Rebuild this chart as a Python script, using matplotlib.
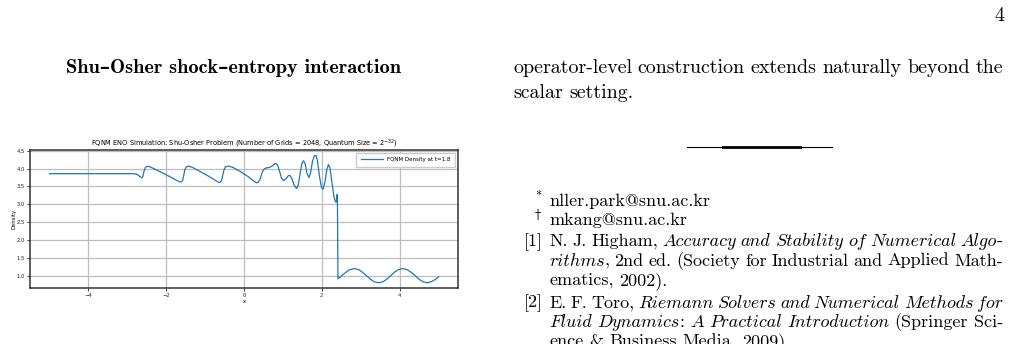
import matplotlib
matplotlib.use("Agg")
import matplotlib.pyplot as plt
from matplotlib.lines import Line2D

W, H = 1010, 344

# density curve
x_vals = [-5.0, -2.85, -2.75, -2.68, -2.63, -2.60, -2.57, -2.54, -2.50, -2.44,
          -2.30, -2.10, -1.90, -1.75, -1.66, -1.62, -1.58, -1.55, -1.52, -1.48,
          -1.42, -1.30, -1.10, -0.90, -0.75, -0.66, -0.62, -0.58, -0.55, -0.51,
          -0.47, -0.40, -0.28, -0.10, 0.10, 0.25, 0.32, 0.37, 0.42, 0.47,
          0.52, 0.58, 0.66, 0.72, 0.79, 0.83, 0.87, 0.92, 0.97, 1.02,
          1.08, 1.14, 1.18, 1.23, 1.29, 1.35, 1.39, 1.44, 1.49, 1.53,
          1.57, 1.62, 1.67, 1.71, 1.76, 1.81, 1.85, 1.89, 1.94, 1.99,
          2.03, 2.08, 2.13, 2.17, 2.21, 2.26, 2.31, 2.35, 2.37, 2.38,
          2.39, 2.40, 2.415, 2.50, 2.60, 2.70, 2.83, 2.95, 3.05, 3.15,
          3.25, 3.35, 3.46, 3.57, 3.67, 3.77, 3.87, 3.97, 4.08, 4.19,
          4.29, 4.40, 4.50, 4.60, 4.71, 4.81, 4.91, 5.00]
rho_vals = [3.857, 3.857, 3.84, 3.78, 3.74, 3.78, 3.92, 4.02, 4.06, 4.06,
            3.99, 3.88, 3.77, 3.68, 3.63, 3.62, 3.66, 3.80, 3.97, 4.05,
            4.07, 4.02, 3.90, 3.78, 3.68, 3.62, 3.61, 3.66, 3.80, 3.98,
            4.05, 4.07, 4.03, 3.92, 3.78, 3.65, 3.60, 3.62, 3.72, 3.90,
            3.99, 4.02, 4.03, 4.07, 4.13, 4.14, 4.08, 3.90, 3.72, 3.66,
            3.72, 3.80, 3.81, 3.72, 3.53, 3.44, 3.52, 3.85, 4.15, 4.22,
            4.14, 3.86, 3.75, 3.88, 4.20, 4.36, 4.37, 4.20, 3.78, 3.48,
            3.42, 3.62, 3.98, 4.11, 4.02, 3.62, 3.22, 3.07, 3.06, 3.14,
            3.27, 3.27, 0.91, 0.99, 1.08, 1.16, 1.20, 1.17, 1.09, 1.00,
            0.90, 0.83, 0.80, 0.83, 0.90, 1.00, 1.10, 1.17, 1.20, 1.17,
            1.10, 1.00, 0.90, 0.83, 0.80, 0.83, 0.89, 0.97]

x_ticks = [-4, -2, 0, 2, 4]
y_ticks = [1.0, 1.5, 2.0, 2.5, 3.0, 3.5, 4.0, 4.5]

plot_title = r"FQNM ENO Simulation: Shu-Osher Problem (Number of Grids = 2048, Quantum Size = $2^{-32}$)"
legend_label = "FQNM Density at t=1.8"

page_number = "4"
heading = "Shu–Osher shock–entropy interaction"
body_lines = ["operator-level construction extends naturally beyond the",
              "scalar setting."]
footnotes = [("*", "nller.park@snu.ac.kr"), ("†", "mkang@snu.ac.kr")]
# text between slashes is italic
references = [
    ("[1]", ["N. J. Higham, /Accuracy and Stability of Numerical Algo/-",
             "/rithms/, 2nd ed. (Society for Industrial and Applied Math-",
             "ematics, 2002)."]),
    ("[2]", ["E. F. Toro, /Riemann Solvers and Numerical Methods for/",
             "/Fluid Dynamics/: /A Practical Introduction/ (Springer Sci-",
             "ence & Business Media, 2009)."]),
]

ROMAN = ["cmr10", "DejaVu Serif"]
ITAL = ["cmmi10", "DejaVu Serif"]
BOLD = ["cmb10", "DejaVu Serif"]

fig = plt.figure(figsize=(W / 100, H / 100), dpi=100)
renderer = fig.canvas.get_renderer()

# ---- embedded plot ----
ax = fig.add_axes([30 / W, 1 - 288 / H, 428 / W, 138 / H])
ax.plot(x_vals, rho_vals, color="#1f77b4", lw=0.9, label=legend_label)
ax.set_xlim(-5.5, 5.5)
ax.set_ylim(0.655, 4.52)
ax.set_xticks(x_ticks)
ax.set_yticks(y_ticks)
ax.grid(True, color="#bdbdbd", lw=0.9)
ax.tick_params(labelsize=3.8, length=2, width=0.6, pad=1.5, colors="#222222")
ax.set_xlabel("x", fontsize=3.8, labelpad=0.5)
ax.set_ylabel("Density", fontsize=3.8, labelpad=0)
ax.set_title(plot_title, fontsize=4.8, pad=2.5)
for s in ax.spines.values():
    s.set_linewidth(1.1)
    s.set_color("#333333")
ax.legend(loc="upper right", fontsize=4.0, handlelength=4.0, borderpad=0.8,
          framealpha=1, fancybox=False, edgecolor="#cccccc")


# ---- page text ----
def parse(s):
    words = [[]]
    for i, seg in enumerate(s.split("/")):
        font = ITAL if i % 2 else ROMAN
        for j, p in enumerate(seg.split(" ")):
            if j > 0:
                words.append([])
            if p:
                words[-1].append((p, font))
    return [w for w in words if w]


def draw_line(x0, y, s, size, x1=None):
    words = parse(s)
    arts = [[fig.text(0, 1 - y / H, t, family=f, fontsize=size, va="baseline")
             for t, f in w] for w in words]
    widths = [[a.get_window_extent(renderer).width for a in wa] for wa in arts]
    total = sum(sum(ws) for ws in widths)
    if x1 is None:
        gap = 0.333 * size * 100 / 72
    else:
        gap = (x1 - x0 - total) / (len(words) - 1)
    x = x0
    for wa, ws in zip(arts, widths):
        for a, wd in zip(wa, ws):
            a.set_x(x / W)
            x += wd
        x += gap


def put(x, y, s, family, size, **kw):
    return fig.text(x / W, 1 - y / H, s, family=family, fontsize=size,
                    va="baseline", **kw)


put(1004, 21, page_number, ROMAN, 14.4, ha="right")
put(234, 73, heading, BOLD, 14.6, ha="center", fontweight="bold")

col_l, col_r = 513, 1003
main_size = 14.4
draw_line(col_l, 73, body_lines[0], main_size, col_r)
draw_line(col_l, 98, body_lines[1], main_size)

fig.add_artist(Line2D([687 / W, 832 / W], [1 - 146.5 / H] * 2, lw=0.8,
                      color="black", transform=fig.transFigure))
fig.add_artist(Line2D([723 / W, 800 / W], [1 - 146.5 / H] * 2, lw=2.0,
                      color="black", transform=fig.transFigure))

ref_size = 13.0
text_l = 549
y = 206
for mark, addr in footnotes:
    put(text_l - 8, y - 6, mark, ROMAN, 9, ha="right")
    draw_line(text_l, y, addr, ref_size)
    y += 19.5
y += 1
for tag, lines in references:
    put(text_l - 6, y, tag, ROMAN, ref_size, ha="right")
    for i, ln in enumerate(lines):
        last = i == len(lines) - 1
        draw_line(text_l, y, ln, ref_size, None if last else col_r)
        y += 19.5
    y += 3

fig.savefig("out.png", dpi=100)
